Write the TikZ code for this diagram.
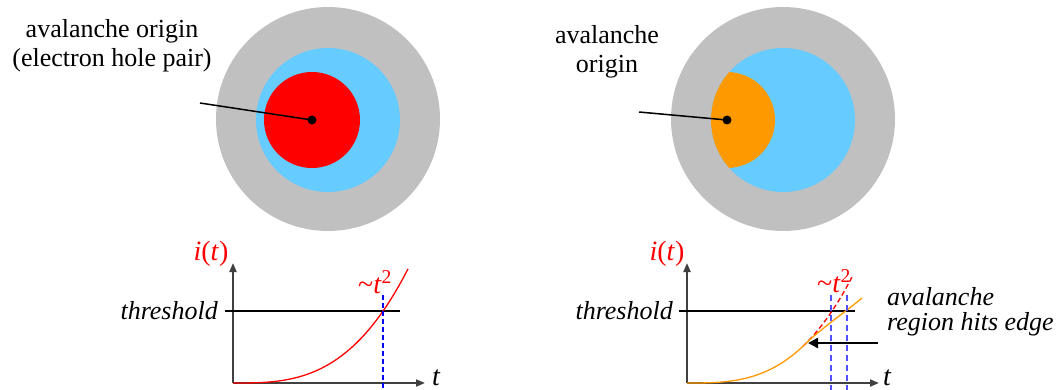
\documentclass[tikz,border=0pt]{standalone}
\usepackage{fontspec}
\setmainfont{Liberation Serif}
\usetikzlibrary{arrows.meta, positioning}
\definecolor{guardgray}{HTML}{C0C0C0}
\definecolor{activeblue}{HTML}{66CCFF}
\definecolor{originred}{HTML}{FF0000}
\definecolor{edgeorange}{HTML}{FF9900}
\definecolor{axisgray}{HTML}{404040}
\definecolor{crossblue}{HTML}{0000FF}
\definecolor{crossblueb}{HTML}{5050FF}
\newcommand{\capfont}{\fontsize{26pt}{29pt}\selectfont}
\newcommand{\notefont}{\fontsize{26pt}{25pt}\selectfont\itshape}
\newcommand{\symfont}{\fontsize{28pt}{30pt}\selectfont}
\tikzstyle{caption} = [inner sep=0pt, font=\capfont, align=center]
\tikzstyle{axis} = [line width=2pt, color=axisgray, -{Triangle[length=9pt,width=7pt]}]
\tikzstyle{leader} = [line width=1.5pt, black]
\tikzstyle{level} = [line width=1.3pt, black]
\tikzstyle{crossing} = [line width=1.4pt, crossblue, dash pattern=on 5pt off 3pt]
\tikzstyle{crossingb} = [line width=1.8pt, crossblueb, dash pattern=on 6pt off 4pt]
\tikzstyle{pointer} = [line width=2.5pt, -{Triangle[length=10pt,width=10pt]}]

\begin{document}
\begin{tikzpicture}[x=1pt, y=-1pt, every node/.style={inner sep=0pt}]
    \useasboundingbox (0,0) rectangle (1062,390);

    % Left disc
    \fill[guardgray] (328,119) circle (112pt);
    \fill[activeblue] (328,120) circle (72pt);
    \fill[originred] (312,120) circle (48pt);
    \coordinate (dotL) at (312,120);
    \fill (dotL) circle (4.5pt);
    \node[caption, anchor=base] (lblL) at (112,67) {avalanche origin\\(electron hole pair)};
    \coordinate (legL) at (200,103);
    \draw[leader] (legL) -- (dotL);

    % Right disc
    \fill[guardgray] (783,119) circle (112pt);
    \fill[activeblue] (783,120) circle (72pt);
    \begin{scope}
        \clip (783,120) circle (72pt);
        \fill[edgeorange] (727,120) circle (48pt);
    \end{scope}
    \coordinate (dotR) at (727,120);
    \fill (dotR) circle (4.5pt);
    \node[caption, anchor=base] (lblR) at (607,73) {avalanche\\origin};
    \coordinate (legR) at (639,112);
    \draw[leader] (legR) -- (dotR);

    % Left plot
    \coordinate (oL) at (233,383);
    \draw[axis] (oL) -- ++(0,-120);
    \draw[axis] (oL) -- ++(192,0);
    \draw[level] (225,311) -- (400,311);
    \draw[originred, line width=1.3pt] plot[domain=0:175, samples=80] ({233+\x},{383-21.3*(\x/100)^3});
    \draw[crossing] (383,295) -- (383,390);
    \node[anchor=base, font=\symfont, text=originred] (itL) at (211,260) {\textit{i}(\textit{t})};
    \node[anchor=base west, font=\symfont, text=originred] (powL) at (358,293) {\textasciitilde\textit{t}\textsuperscript{2}};
    \node[anchor=base west, font=\symfont] (tL) at (432,385) {\textit{t}};
    \node[anchor=base east, font=\capfont\itshape] (thrL) at (218,319) {threshold};

    % Right plot
    \coordinate (oR) at (687,383);
    \draw[axis] (oR) -- ++(0,-120);
    \draw[axis] (oR) -- ++(192,0);
    \draw[level] (679,311) -- (855,311);
    \draw[originred, line width=1.3pt, dash pattern=on 5pt off 3pt] plot[domain=116:165, samples=30] ({687+\x},{383-23.6*(\x/100)^3});
    \draw[edgeorange, line width=1.3pt] plot[domain=0:118, samples=60] ({687+\x},{383-23.6*(\x/100)^3})
        .. controls (820,329.4) and (848,309.9) .. (862,298);
    \draw[crossingb] (831,295) -- (831,390);
    \draw[crossingb] (847,295) -- (847,390);
    \node[anchor=base, font=\symfont, text=originred] (itR) at (667,260) {\textit{i}(\textit{t})};
    \node[anchor=base west, font=\symfont, text=originred] (powR) at (817,292) {\textasciitilde\textit{t}\textsuperscript{2}};
    \node[anchor=base west, font=\symfont] (tR) at (883,385) {\textit{t}};
    \node[anchor=base east, font=\capfont\itshape] (thrR) at (673,319) {threshold};

    % Edge note
    \node[anchor=base west, font=\notefont, align=left] (hitR) at (887,330) {avalanche\\region hits edge};
    \coordinate (hitpt) at (808,343);
    \coordinate (tailR) at ([xshift=-9pt]hitR.west);
    \draw[pointer] (tailR |- hitpt) -- (hitpt);
\end{tikzpicture}
\end{document}
